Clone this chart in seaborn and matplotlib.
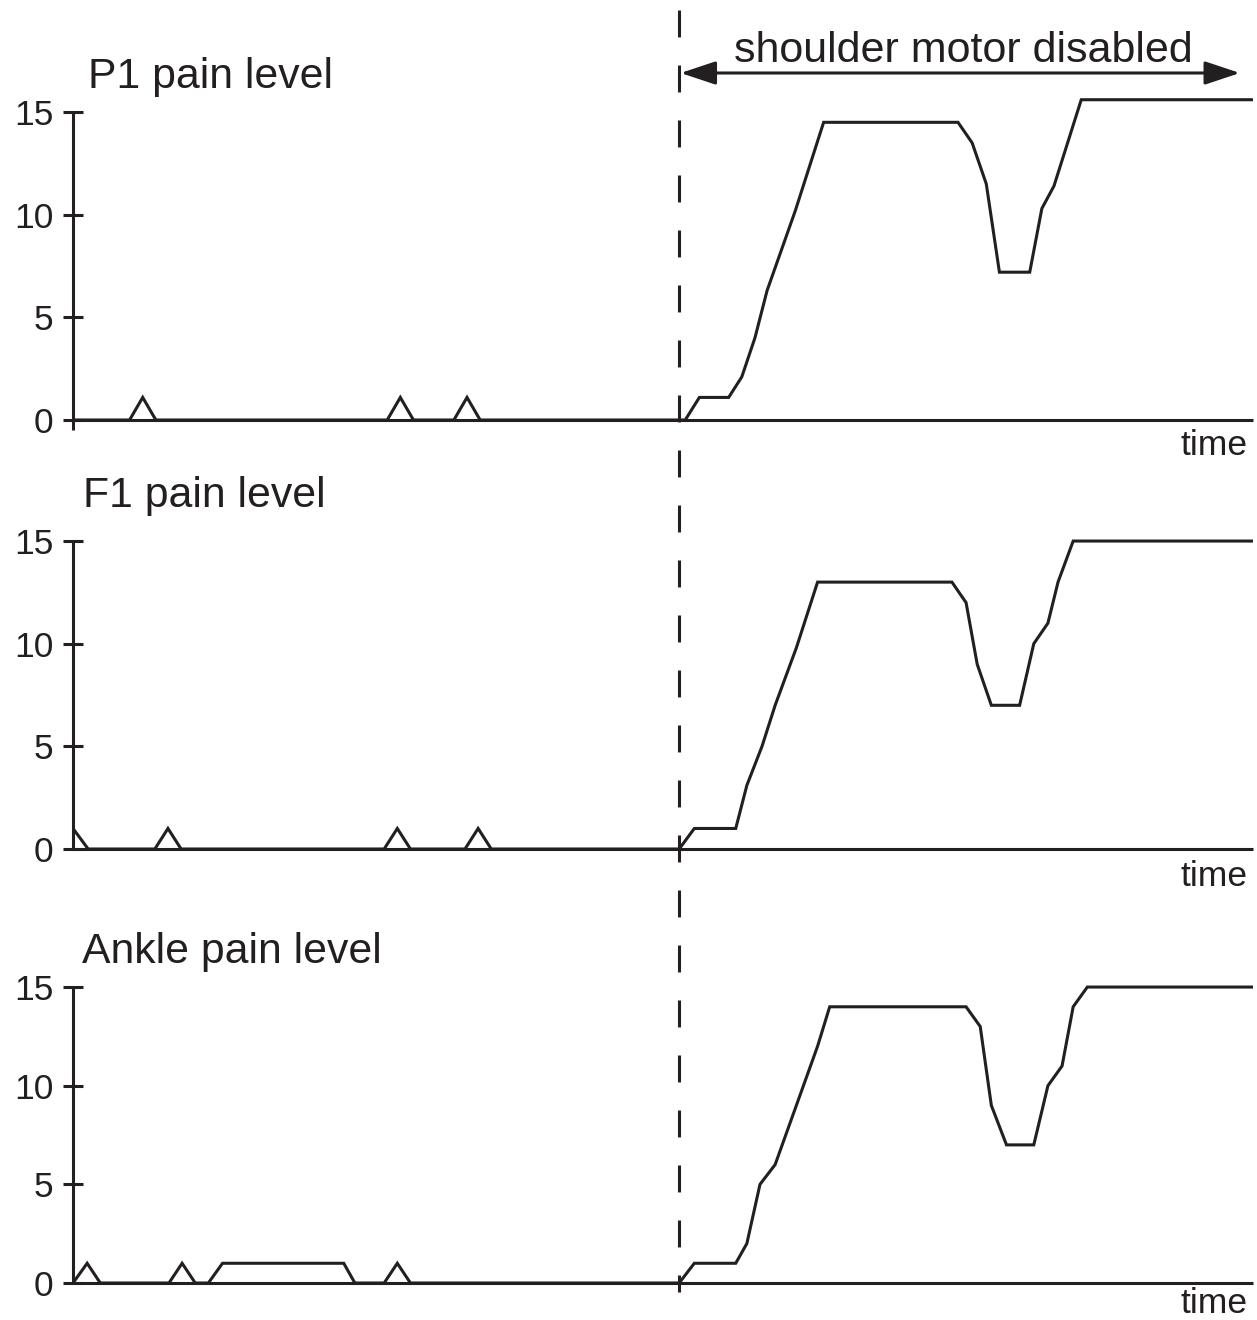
import matplotlib
matplotlib.use('Agg')
import matplotlib.pyplot as plt
import matplotlib.transforms as mtransforms
from matplotlib.patches import FancyArrowPatch
from matplotlib.lines import Line2D
import seaborn as sns

# ---------------- data (time in arbitrary units, pain level 0-15) ----------------
p1_t = [0, 5.6, 6.9, 8.2, 31.1, 32.4, 33.7, 37.7, 39.0, 40.3, 60.6, 62.0, 64.9, 66.2,
        67.5, 68.7, 71.5, 74.3, 87.6, 89.0, 90.4, 91.7, 94.7, 95.9, 97.1, 99.8, 116.8]
p1_v = [0, 0, 1.1, 0, 0, 1.1, 0, 0, 1.1, 0, 0, 1.1, 1.1, 2.1,
        4.0, 6.3, 10.2, 14.5, 14.5, 13.5, 11.5, 7.2, 7.2, 10.3, 11.4, 15.6, 15.6]

f1_t = [0, 1.5, 8.1, 9.4, 10.7, 30.8, 32.1, 33.4, 38.8, 40.1, 41.4, 60.0, 61.5, 65.6,
        66.7, 68.2, 69.5, 71.6, 73.7, 87.0, 88.4, 89.5, 90.9, 93.7, 95.1, 96.5, 97.5,
        99.0, 116.8]
f1_v = [1.0, 0, 0, 1.0, 0, 0, 1.0, 0, 0, 1.0, 0, 0, 1.0, 1.0,
        3.1, 5.0, 7.0, 9.8, 13.0, 13.0, 12.0, 9.0, 7.0, 7.0, 10.0, 11.0, 13.0,
        15.0, 15.0]

ankle_t = [0, 1.4, 2.7, 9.5, 10.8, 12.1, 13.4, 14.8, 26.8, 27.9, 30.8, 32.1, 33.4,
           60.0, 61.5, 65.6, 66.7, 68.0, 69.5, 73.7, 74.9, 88.4, 89.8, 90.9, 92.4,
           95.1, 96.5, 97.9, 99.0, 100.4, 116.8]
ankle_v = [0, 1, 0, 0, 1, 0, 0, 1, 1, 0, 0, 1, 0,
           0, 1, 1, 2, 5, 6, 12, 14, 14, 13, 9, 7,
           7, 10, 11, 14, 15, 15]

titles = ['P1 pain level', 'F1 pain level', 'Ankle pain level']
y_ticks = [0, 5, 10, 15]
x_label = 'time'
event_label = 'shoulder motor disabled'
event_t = 60.0
arrow_end_t = 115.5
t_max = 116.8

# ---------------- style ----------------
sns.set_theme(style='white')
plt.rcParams['font.family'] = ['Liberation Sans', 'DejaVu Sans']
plt.rcParams['lines.scale_dashes'] = False
INK = '#231f20'
LW = 2.2

W, H = 1257, 1320
fig = plt.figure(figsize=(W / 100, H / 100), dpi=100)


def fx(px):
    return px / W


def fy(py):
    return 1 - py / H


# per panel layout: pixel row of y=0, pixels per unit, title pos, 'time' baseline, spine extension
layout = [
    dict(zero=420, scale=20.53, title_xy=(88, 88), time_y=455, spine_lo=-0.5),
    dict(zero=849, scale=20.53, title_xy=(83, 507), time_y=886, spine_lo=0),
    dict(zero=1283, scale=19.73, title_xy=(82, 963), time_y=1313, spine_lo=0),
]
series = [(p1_t, p1_v), (f1_t, f1_v), (ankle_t, ankle_v)]

x_left, x_right = 73, 1253
ylo, yhi = -0.5, 16
axes = []
for (t, v), lay, title in zip(series, layout, titles):
    top_px = lay['zero'] - yhi * lay['scale']
    bot_px = lay['zero'] - ylo * lay['scale']
    ax = fig.add_axes([fx(x_left), fy(bot_px), fx(x_right - x_left), (bot_px - top_px) / H])
    ax.set_facecolor('none')
    sns.lineplot(x=t, y=v, ax=ax, color=INK, lw=LW, estimator=None, sort=False,
                 solid_joinstyle='miter', solid_capstyle='butt')
    ax.set_xlim(0, t_max)
    ax.set_ylim(ylo, yhi)
    for s in ['top', 'right']:
        ax.spines[s].set_visible(False)
    ax.spines['bottom'].set_position(('data', 0))
    ax.spines['bottom'].set_bounds(0, t_max)
    ax.spines['left'].set_bounds(lay['spine_lo'], 15)
    for s in ['left', 'bottom']:
        ax.spines[s].set_color(INK)
        ax.spines[s].set_linewidth(LW)
        ax.spines[s].set_capstyle('butt')
    ax.set_xticks([])
    ax.set_yticks(y_ticks)
    ax.set_yticklabels([str(k) for k in y_ticks])
    ax.tick_params(axis='y', direction='inout', length=14.4, width=LW, pad=7,
                   labelsize=25.5, colors=INK, left=True)
    ax.set_xlabel('')
    ax.set_ylabel('')
    fig.text(fx(lay['title_xy'][0]), fy(lay['title_xy'][1]), title, ha='left',
             va='baseline', fontsize=30.8, color=INK)
    fig.text(fx(1248), fy(lay['time_y']), x_label, ha='right', va='baseline',
             fontsize=25.5, color=INK)
    axes.append(ax)

# event marker: dashed vertical line through all panels
trans = mtransforms.blended_transform_factory(axes[0].transData, fig.transFigure)
dash = Line2D([event_t, event_t], [fy(10), fy(1292)], transform=trans, color=INK,
              lw=LW, linestyle=(0, (19.4, 20.2)), solid_capstyle='butt',
              dash_capstyle='butt')
fig.add_artist(dash)

arrow = FancyArrowPatch((event_t + 0.15, fy(73)), (arrow_end_t, fy(73)), transform=trans,
                        arrowstyle='<|-|>,head_length=21.6,head_width=7.2',
                        mutation_scale=1, lw=LW, color=INK, shrinkA=0, shrinkB=0)
fig.add_artist(arrow)
fig.text(fx(963), fy(62), event_label, ha='center', va='baseline', fontsize=31,
         color=INK)

fig.savefig('out.png', dpi=100)
